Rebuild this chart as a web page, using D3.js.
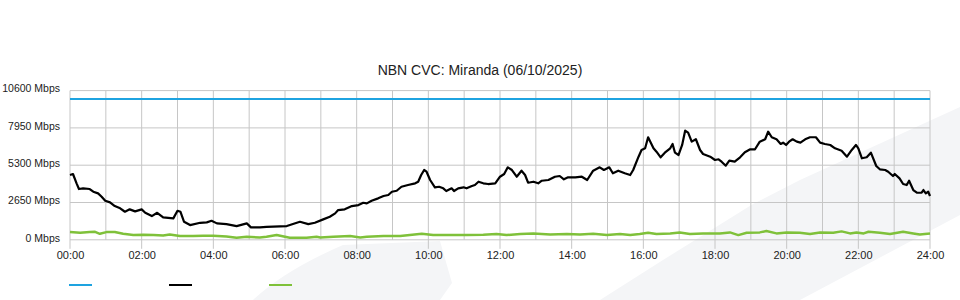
<!DOCTYPE html>
<html>
<head>
<meta charset="utf-8">
<script src="https://cdn.jsdelivr.net/npm/d3@7"></script>
<style>
  body { margin: 0; background: #fff; }
  svg { display: block; font-family: "Liberation Sans", Arial, sans-serif; }
  .title { font-size: 14px; fill: #222; text-anchor: middle; }
  .tick text { font-size: 11px; fill: #222; }
  .y-axis .tick text { font-size: 10.5px; }
</style>
</head>
<body>
<svg id="chart" width="960" height="300"></svg>
<script>
// minutes after midnight, Mbps
const capacityMbps = 10000;

const usedTimes = [0, 5, 11, 15, 22, 33, 39, 47, 53, 59, 67, 75, 84, 92, 100, 109, 120, 126, 137, 146,
  156, 173, 180, 185, 191, 201, 218, 229, 237, 246, 262, 279, 296, 303, 318, 329, 363, 385, 399, 410,
  424, 435, 444, 449, 460, 472, 483, 491, 497, 505, 516, 525, 533, 539, 547, 555, 566, 578, 583, 588,
  593, 597, 603, 611, 618, 625, 630, 639, 643, 650, 659, 664, 673, 678, 684, 692, 700, 712, 720, 727,
  733, 740, 748, 756, 762, 767, 776, 784, 790, 801, 812, 820, 827, 834, 846, 857, 866, 876, 887, 894,
  903, 909, 918, 929, 938, 943, 952, 957, 963, 968, 977, 982, 989, 996, 1005, 1009, 1013, 1019, 1025, 1030,
  1035, 1041, 1048, 1055, 1060, 1072, 1080, 1086, 1091, 1098, 1104, 1113, 1122, 1130, 1139, 1147, 1155, 1164, 1169, 1175,
  1183, 1190, 1194, 1199, 1204, 1210, 1217, 1223, 1231, 1239, 1249, 1256, 1264, 1273, 1281, 1292, 1301, 1309, 1316, 1320,
  1326, 1334, 1341, 1350, 1356, 1365, 1370, 1378, 1381, 1389, 1395, 1401, 1405, 1412, 1418, 1426, 1429, 1433, 1437, 1440];
const usedMbps = [4603, 4674, 4012, 3607, 3657, 3607, 3415, 3301, 3059, 2774, 2661, 2397, 2234, 1992, 2163, 2020, 2163, 1921, 1686, 1921,
  1594, 1522, 2063, 1992, 1281, 1046, 1209, 1238, 1352, 1167, 1117, 975, 1167, 882, 882, 925, 975, 1281, 1117, 1209,
  1451, 1636, 1878, 2113, 2163, 2397, 2469, 2632, 2589, 2774, 2945, 3109, 3180, 3415, 3486, 3770, 3891, 4012, 4126, 4603,
  4958, 4838, 4247, 3728, 3770, 3657, 3464, 3657, 3464, 3657, 3728, 3657, 3820, 3891, 4126, 4012, 3962, 4012, 4482, 4674,
  5150, 4958, 4482, 4909, 4603, 4055, 4126, 4012, 4197, 4247, 4482, 4532, 4297, 4439, 4439, 4482, 4247, 4909, 5150, 4958,
  5150, 4724, 4909, 4724, 4603, 4958, 5905, 6381, 6502, 7285, 6502, 6260, 5862, 6189, 6502, 6808, 6189, 6026, 6737, 7754,
  7612, 6972, 7142, 6381, 6097, 5905, 5670, 5720, 5549, 5264, 5620, 5549, 5862, 6218, 6431, 6431, 6972, 7142, 7683, 7285,
  7142, 6808, 6901, 6737, 6972, 7142, 6972, 6901, 7142, 7285, 7285, 6901, 6808, 6737, 6502, 6331, 5905, 6381, 6737, 6502,
  5791, 5862, 6189, 5243, 5008, 4958, 4838, 4532, 4674, 4368, 3962, 3891, 4197, 3536, 3344, 3344, 3536, 3301, 3415, 3109];

const greenTimes = [0, 17, 33, 42, 50, 61, 75, 89, 106, 123, 140, 156, 167, 184, 206, 223, 240, 262, 279, 296,
  318, 329, 346, 368, 396, 413, 419, 441, 469, 486, 497, 525, 553, 569, 589, 608, 636, 664, 692, 714,
  731, 754, 776, 804, 832, 854, 876, 899, 921, 938, 954, 968, 982, 1005, 1021, 1038, 1060, 1088, 1105, 1119,
  1133, 1155, 1166, 1183, 1200, 1222, 1239, 1256, 1278, 1292, 1306, 1317, 1329, 1337, 1356, 1373, 1395, 1412, 1423, 1440];
const greenMbps = [548, 498, 548, 569, 427, 548, 548, 427, 334, 356, 334, 313, 384, 263, 263, 285, 285, 242, 142, 213,
  171, 213, 334, 142, 142, 213, 171, 213, 263, 171, 213, 263, 263, 334, 427, 334, 334, 334, 356, 405,
  334, 405, 455, 384, 405, 384, 427, 334, 405, 334, 405, 498, 405, 455, 526, 405, 455, 455, 526, 334,
  498, 526, 619, 455, 526, 498, 405, 526, 498, 598, 455, 526, 455, 569, 498, 405, 569, 455, 384, 455];

const yTicks = [0, 2650, 5300, 7950, 10600];
const xTicks = d3.range(0, 1441, 60);
const xLabelTicks = d3.range(0, 1441, 120);

const svg = d3.select("#chart");
const plotLeft = 70, plotRight = 930, plotTop = 90.6, plotBottom = 239.8;

const x = d3.scaleLinear().domain([0, 1440]).range([plotLeft, plotRight]);
const y = d3.scaleLinear().domain([0, 10600]).range([plotBottom, plotTop]);

// faint watermark shapes
svg.append("path")
  .attr("d", "M600,300 L663,260 L753,204 L800,180 L960,107 L960,215 L800,300 Z")
  .attr("fill", "#f4f5f7");
svg.append("path")
  .attr("d", "M253,300 Q285,270 343,245 L440,241 L452,283 L440,300 Z")
  .attr("fill", "#f4f5f7");

svg.append("text")
  .attr("class", "title")
  .attr("x", 480)
  .attr("y", 75)
  .text("NBN CVC: Miranda (06/10/2025)");

// grid
const grid = svg.append("g").attr("stroke", "#c6c6c6").attr("stroke-width", 1);
grid.selectAll("line.h")
  .data(yTicks)
  .join("line")
  .attr("class", "h")
  .attr("x1", plotLeft).attr("x2", plotRight)
  .attr("y1", d => y(d)).attr("y2", d => y(d));
grid.selectAll("line.v")
  .data(xTicks)
  .join("line")
  .attr("class", "v")
  .attr("x1", d => x(d)).attr("x2", d => x(d))
  .attr("y1", plotTop)
  .attr("y2", d => d % 120 === 0 ? plotBottom + 9 : plotBottom);

// axes (labels only)
const yAxis = d3.axisLeft(y).tickValues(yTicks).tickSize(0).tickPadding(10).tickFormat(d => d + " Mbps");
svg.append("g")
  .attr("class", "y-axis")
  .attr("transform", `translate(${plotLeft},-2)`)
  .call(yAxis)
  .call(g => g.select(".domain").remove());

const fmt = m => String(Math.floor(m / 60)).padStart(2, "0") + ":00";
const xAxis = d3.axisBottom(x).tickValues(xLabelTicks).tickSize(0).tickPadding(11).tickFormat(fmt);
svg.append("g")
  .attr("transform", `translate(0,${plotBottom})`)
  .call(xAxis)
  .call(g => g.select(".domain").remove());

// series
const line = d3.line().x(d => x(d[0])).y(d => y(d[1]));

svg.append("path")
  .datum([[0, capacityMbps], [1440, capacityMbps]])
  .attr("d", line)
  .attr("fill", "none")
  .attr("stroke", "#1ea3e0")
  .attr("stroke-width", 2);

svg.append("path")
  .datum(greenTimes.map((t, i) => [t, greenMbps[i]]))
  .attr("d", line)
  .attr("fill", "none")
  .attr("stroke", "#7fc13a")
  .attr("stroke-width", 2.5)
  .attr("stroke-linejoin", "round");

svg.append("path")
  .datum(usedTimes.map((t, i) => [t, usedMbps[i]]))
  .attr("d", line)
  .attr("fill", "none")
  .attr("stroke", "#000")
  .attr("stroke-width", 2.2)
  .attr("stroke-linejoin", "round");

// legend swatches
const legendColors = ["#1ea3e0", "#000", "#7fc13a"];
svg.selectAll("line.legend")
  .data(legendColors)
  .join("line")
  .attr("class", "legend")
  .attr("x1", (d, i) => 69 + i * 100)
  .attr("x2", (d, i) => 92 + i * 100)
  .attr("y1", 285).attr("y2", 285)
  .attr("stroke", d => d)
  .attr("stroke-width", 2);
</script>
</body>
</html>
